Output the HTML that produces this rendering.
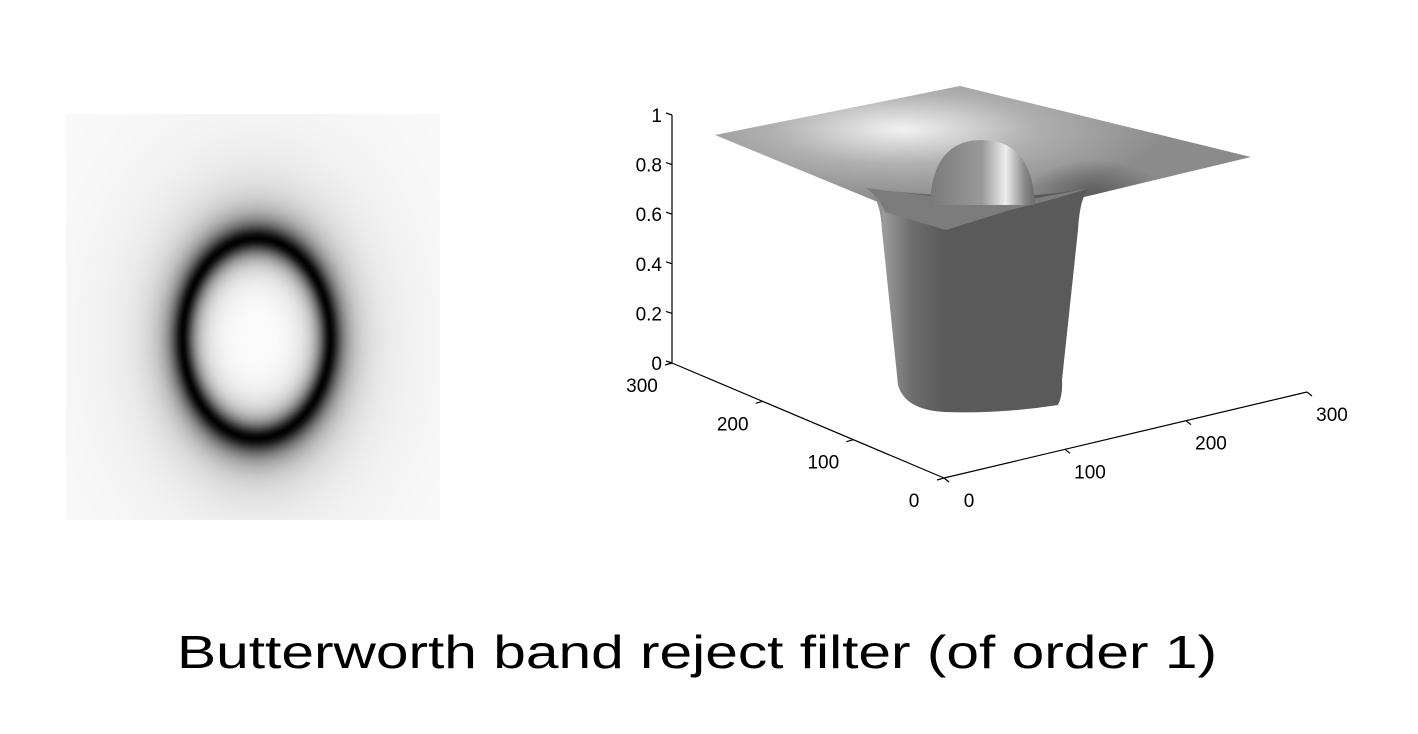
<!DOCTYPE html>
<html><head><meta charset="utf-8"><style>
html,body{margin:0;padding:0;background:#fff;width:1418px;height:734px;overflow:hidden}
#wrap{position:relative;width:1418px;height:734px}
canvas{position:absolute;left:66px;top:114px}
svg{position:absolute;left:0;top:0}
</style></head><body>
<div id="wrap">
<canvas id="img" width="374" height="406"></canvas>
<svg id="plot" width="1418" height="734">
<defs>
<linearGradient id="tube" x1="0" x2="1" y1="0" y2="0">
<stop offset="0" stop-color="#6a6a6a"/><stop offset="0.08" stop-color="#9a9a9a"/><stop offset="0.2" stop-color="#6e6e6e"/><stop offset="0.35" stop-color="#5a5a5a"/><stop offset="1" stop-color="#5a5a5a"/>
</linearGradient>
<radialGradient id="topg" cx="0.35" cy="0.3" r="0.7">
<stop offset="0" stop-color="#f2f2f2"/><stop offset="0.35" stop-color="#b0b0b0"/><stop offset="0.7" stop-color="#8c8c8c"/><stop offset="1" stop-color="#8a8a8a"/>
</radialGradient>
<radialGradient id="darkspot" cx="0.5" cy="0.5" r="0.5">
<stop offset="0" stop-color="#555" stop-opacity="0.9"/><stop offset="1" stop-color="#555" stop-opacity="0"/>
</radialGradient>
<linearGradient id="dome" x1="0" x2="1">
<stop offset="0" stop-color="#7a7a7a"/><stop offset="0.5" stop-color="#9a9a9a"/><stop offset="0.72" stop-color="#eeeeee"/><stop offset="0.9" stop-color="#8a8a8a"/><stop offset="1" stop-color="#6a6a6a"/>
</linearGradient>
<clipPath id="topclip"><path d="M715,135 L960,86 L1251,157 L946,230 Z"/></clipPath>
</defs>
<g id="surface">
<path d="M715,135 L960,86 L1251,157 L946,230 Z" fill="url(#topg)"/>
<ellipse cx="1095" cy="195" rx="70" ry="35" fill="url(#darkspot)" clip-path="url(#topclip)"/>
<path d="M866,188 Q880,195 882,230 L898,385 Q905,410 945,412 Q1000,414 1058,405 Q1063,395 1062,380 L1078,230 Q1080,195 1090,188 Q1000,205 866,188 Z" fill="url(#tube)"/>
<path d="M866,188 Q878,195 885,212 L946,230 L1010,210 Q1060,198 1090,188 L1000,205 Z" fill="#7c7c7c"/>
<path d="M930,205 Q932,140 982,140 Q1032,140 1035,205 Z" fill="url(#dome)"/>
</g>
<g id="axes" stroke="#000" stroke-width="1.2" fill="none"></g>
<g id="labels" font-family="Liberation Sans Narrow, Liberation Sans, sans-serif" font-size="19" fill="#000"></g>
<text x="697" y="668" text-anchor="middle" font-family="Liberation Sans, sans-serif" font-size="46" textLength="1040" lengthAdjust="spacingAndGlyphs">Butterworth band reject filter (of order 1)</text>
</svg>
</div>
<script>
// Filter parameters
const ringRadiusX = [74];
const ringRadiusY = [100];
const bandWidth = [0.35];
// Axis ticks
const zTicks = [0, 0.2, 0.4, 0.6, 0.8, 1];
const zTickLabels = ["0", "0.2", "0.4", "0.6", "0.8", "1"];
const yTicks = [0, 100, 200, 300];
const yTickLabels = ["0", "100", "200", "300"];
const xTicks = [0, 100, 200, 300];
const xTickLabels = ["0", "100", "200", "300"];

// Image
const cv = document.getElementById('img'), ctx = cv.getContext('2d');
const W = cv.width, H = cv.height, id = ctx.createImageData(W, H);
const cx = 190, cy = 224;
for (let y = 0; y < H; y++) for (let x = 0; x < W; x++) {
  const dx = (x - cx) / ringRadiusX[0], dy = (y - cy) / ringRadiusY[0];
  const D = Math.sqrt(dx*dx + dy*dy);
  const den = D*D - 1;
  const t = D*bandWidth[0] / (den === 0 ? 1e-9 : den);
  const h = 1 / (1 + t*t);
  const v = Math.round(250 * Math.pow(h, 0.9) + 2);
  const i = (y*W + x)*4;
  id.data[i] = id.data[i+1] = id.data[i+2] = v; id.data[i+3] = 255;
}
ctx.putImageData(id, 0, 0);

// Axes
const NS = 'http://www.w3.org/2000/svg';
const axes = document.getElementById('axes'), labels = document.getElementById('labels');
const origin = [672, 363], zTop = 115;
const leftEnd = [944, 478], rightEnd = [1307, 392];
function zY(v) { return origin[1] - (origin[1] - zTop) * v; }
function yPt(v) { const f = 1 - v/300; return [origin[0] + (leftEnd[0]-origin[0])*f, origin[1] + (leftEnd[1]-origin[1])*f]; }
function xPt(v) { const f = v/300; return [leftEnd[0] + (rightEnd[0]-leftEnd[0])*f, leftEnd[1] + (rightEnd[1]-leftEnd[1])*f]; }
function line(x1,y1,x2,y2,name){ const l=document.createElementNS(NS,'line');
  l.setAttribute('x1',x1);l.setAttribute('y1',y1);l.setAttribute('x2',x2);l.setAttribute('y2',y2);
  
  
  axes.appendChild(l); }
function text(x,y,s,anchor,name){ const t=document.createElementNS(NS,'text');
  t.setAttribute('x',x);t.setAttribute('y',y);t.setAttribute('text-anchor',anchor);t.textContent=s;
  
  
  labels.appendChild(t); }
line(origin[0], zY(1), origin[0], zY(0), 'z-axis-line');
line(origin[0], origin[1], leftEnd[0], leftEnd[1], 'y-axis-line');
line(leftEnd[0], leftEnd[1], rightEnd[0], rightEnd[1], 'x-axis-line');
zTicks.forEach((v,i)=>{ const y=zY(v); line(origin[0]-6,y-2,origin[0],y,'z-tick'); text(origin[0]-10,y+7,zTickLabels[i],'end','z-tick-label'); });
yTicks.forEach((v,i)=>{ const p=yPt(v); line(p[0],p[1],p[0]-7,p[1]+2,'y-tick'); text(p[0]-30,p[1]+29,yTickLabels[i],'middle','y-tick-label'); });
xTicks.forEach((v,i)=>{ const p=xPt(v); line(p[0],p[1],p[0]+5,p[1]+4,'x-tick'); text(p[0]+25,p[1]+29,xTickLabels[i],'middle','x-tick-label'); });
</script>
</body></html>
